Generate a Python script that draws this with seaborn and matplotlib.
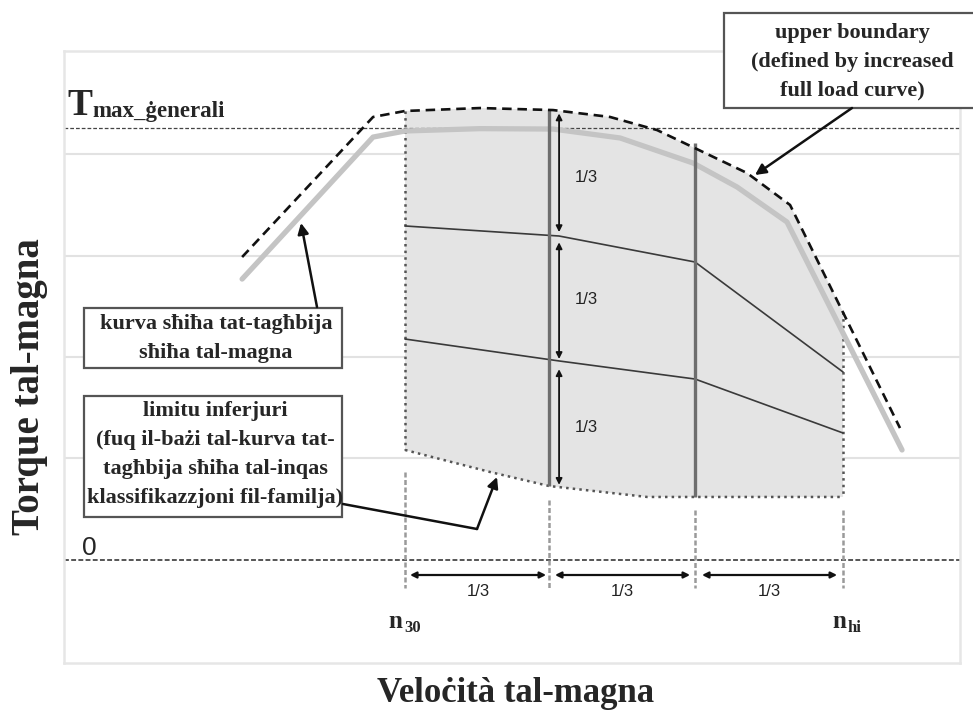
import numpy as np
import pandas as pd
import matplotlib
matplotlib.use("Agg")
import matplotlib.pyplot as plt
import seaborn as sns
from matplotlib.patches import Rectangle, FancyArrowPatch
from matplotlib.lines import Line2D

# ---------------- data (normalised speed: n30 = 0, nhi = 3) ----------------
speed_full_load = [-1.116, -0.219, 0.0, 0.514, 1.014, 1.473, 1.973, 2.274, 2.616, 3.404]
torque_full_load = [2.768, 4.167, 4.227, 4.250, 4.246, 4.158, 3.911, 3.675, 3.330, 1.084]

speed_upper = [-1.116, -0.219, 0.0, 0.514, 1.014, 1.404, 1.726, 2.342, 2.637, 3.390]
torque_upper = [2.985, 4.365, 4.424, 4.453, 4.433, 4.365, 4.236, 3.813, 3.498, 1.300]

speed_lower = [0.0, 0.582, 0.986, 1.658, 3.0]
torque_lower = [1.084, 0.867, 0.729, 0.621, 0.621]
upper_at_nhi = 2.443

speed_thirds = [0.0, 1.055, 1.986, 3.0]
torque_upper_third = [3.291, 3.192, 2.936, 1.852]
torque_lower_third = [2.177, 1.961, 1.783, 1.251]

speed_division = [0.0, 0.986, 1.986, 3.0]
division_line_top = [4.443, 4.108]
division_line_bottom = [0.729, 0.621]
marker_top = [0.867, 0.59, 0.49, 0.49]
marker_bottom = -0.276

torque_arrow_x = 1.055
torque_arrows = [(4.40, 3.23), (3.13, 1.98), (1.88, 0.74)]
torque_third_label_y = [3.773, 2.562, 1.310]

speed_arrows = [(0.034, 0.966), (1.027, 1.952), (2.034, 2.959)]

t_max_general = 4.256
speed_labels = ["n", "n"]
speed_label_subs = ["30", "hi"]

SERIF = "Liberation Serif"
SANS = "Liberation Sans"

sns.set_theme(style="white")
plt.rcParams["font.family"] = [SERIF, "DejaVu Serif"]

W, H = 973, 715
fig = plt.figure(figsize=(W / 100, H / 100), dpi=100)


def fx(px):
    return px / W


def fy(py):
    return 1 - py / H


ax = fig.add_axes([fx(64), fy(663), 896 / W, 612 / H])
ax.set_xlim(-2.336, 3.801)
ax.set_ylim(-1.015, 5.015)
ax.set_xticks([])
ax.set_yticks([1, 2, 3, 4])
ax.set_yticklabels([])
ax.tick_params(length=0)
ax.yaxis.grid(True, color="#e2e2e2", lw=1.5)
ax.set_axisbelow(True)
for s in ax.spines.values():
    s.set_color("#e6e6e6")
    s.set_linewidth(1.8)

# shaded area between lower and upper boundary
poly_x = [x for x in speed_upper if 0 <= x <= 3] + [3.0] + speed_lower[::-1]
poly_y = [y for x, y in zip(speed_upper, torque_upper) if 0 <= x <= 3] + [upper_at_nhi] + torque_lower[::-1]
ax.fill(poly_x, poly_y, color="#e4e4e4", zorder=1, lw=0)

# reference lines
ax.axhline(t_max_general, color="#444444", lw=0.9, ls=(0, (3, 1.6)), zorder=2)
ax.axhline(0, color="#555555", lw=1.4, ls=(0, (2.5, 1.2)), zorder=2)

# region edges (dotted)
ax.plot([0, 0], [torque_upper[2], torque_lower[0]], color="#555555", lw=1.8, ls=":", zorder=3)
ax.plot([3, 3], [upper_at_nhi, torque_lower[-1]], color="#555555", lw=1.8, ls=":", zorder=3)
sns.lineplot(x=speed_lower, y=torque_lower, ax=ax, color="#555555", lw=1.8,
             linestyle=":", sort=False, estimator=None, zorder=3)

# full load curve
sns.lineplot(x=speed_full_load, y=torque_full_load, ax=ax, color="#c4c4c4", lw=3.8,
             sort=False, estimator=None, zorder=4)
# upper boundary
sns.lineplot(x=speed_upper, y=torque_upper, ax=ax, color="#111111", lw=1.9,
             linestyle=(0, (3.6, 2.2)), sort=False, estimator=None, zorder=5)

# third lines
sns.lineplot(x=speed_thirds, y=torque_upper_third, ax=ax, color="#3a3a3a", lw=1.2,
             sort=False, estimator=None, zorder=4)
sns.lineplot(x=speed_thirds, y=torque_lower_third, ax=ax, color="#3a3a3a", lw=1.2,
             sort=False, estimator=None, zorder=4)

# thick division lines
for x, t, b in zip(speed_division[1:3], division_line_top, division_line_bottom):
    ax.plot([x, x], [b, t], color="#6e6e6e", lw=2.4, zorder=4, solid_capstyle="butt")

# dashed markers down to the speed arrows
for x, t in zip(speed_division, marker_top):
    ax.plot([x, x], [t, marker_bottom], color="#9a9a9a", lw=1.8, ls=(0, (2, 1)), zorder=3)

# torque third arrows
for (a, b), ly in zip(torque_arrows, torque_third_label_y):
    ax.annotate("", xy=(torque_arrow_x, b), xytext=(torque_arrow_x, a),
                arrowprops=dict(arrowstyle="<|-|>", color="#111111", lw=1.3,
                                mutation_scale=9, shrinkA=0, shrinkB=0), zorder=6)
    ax.text(1.164, ly, "1/3", family=SANS, fontsize=12, color="#222222",
            ha="left", va="center", zorder=6)

# speed third arrows
for a, b in speed_arrows:
    ax.annotate("", xy=(b, -0.148), xytext=(a, -0.148),
                arrowprops=dict(arrowstyle="<|-|>", color="#111111", lw=1.6,
                                mutation_scale=9, shrinkA=0, shrinkB=0), zorder=6)
    ax.text((a + b) / 2, -0.315, "1/3", family=SANS, fontsize=12, color="#222222",
            ha="center", va="center", zorder=6)

# ---------------- texts in figure coordinates ----------------
# speed labels n30 / nhi
for x0, base, sub in zip([388, 832], speed_labels, speed_label_subs):
    fig.text(fx(x0), fy(628), base, family=SERIF, fontweight="bold", fontsize=18,
             ha="left", va="baseline")
    fig.text(fx(x0 + 16), fy(632), sub, family=SERIF, fontweight="bold", fontsize=12,
             ha="left", va="baseline")

fig.text(fx(67), fy(115), "T", family=SERIF, fontweight="bold", fontsize=27,
         ha="left", va="baseline")
fig.text(fx(92), fy(117), "max_ġenerali", family=SERIF, fontweight="bold", fontsize=16.5,
         ha="left", va="baseline")
fig.text(fx(82), fy(555), "0", family=SANS, fontsize=19, ha="left", va="baseline")

fig.text(fx(516), fy(693), "Veloċità tal-magna", family=SERIF, fontweight="bold",
         fontsize=25, ha="center", va="center")
fig.text(fx(30), fy(387), "Torque tal-magna", family=SERIF, fontweight="bold",
         fontsize=28, ha="center", va="center", rotation=90)


def box(x0, y0, x1, y1):
    r = Rectangle((fx(x0), fy(y1)), fx(x1) - fx(x0), fy(y0) - fy(y1),
                  transform=fig.transFigure, facecolor="white", edgecolor="#555555",
                  lw=1.6, zorder=10)
    fig.patches.append(r)


def arrow(p_from, p_to):
    fig.add_artist(FancyArrowPatch(
        (fx(p_from[0]), fy(p_from[1])), (fx(p_to[0]), fy(p_to[1])),
        transform=fig.transFigure, arrowstyle="-|>", mutation_scale=16,
        color="#111111", lw=1.8, shrinkA=0, shrinkB=0, zorder=11))


# upper boundary box
box(724, 13, 975, 108)
for i, line in enumerate(["upper boundary", "(defined by increased", "full load curve)"]):
    fig.text(fx(852), fy(33 + 28.5 * i), line, family=SERIF, fontweight="bold",
             fontsize=16, ha="center", va="center", zorder=12)
arrow((852, 108), (755, 175))

# kurva box
box(84, 308, 342, 368)
for i, line in enumerate(["kurva sħiħa tat-tagħbija", "sħiħa tal-magna"]):
    fig.text(fx(216), fy(324 + 29 * i), line, family=SERIF, fontweight="bold",
             fontsize=16, ha="center", va="center", zorder=12)
arrow((317, 307), (301, 223))

# limitu box
box(84, 396, 342, 517)
for i, line in enumerate(["limitu inferjuri", "(fuq il-bażi tal-kurva tat-",
                          "tagħbija sħiħa tal-inqas", "klassifikazzjoni fil-familja)"]):
    fig.text(fx(215), fy(411 + 29 * i), line, family=SERIF, fontweight="bold",
             fontsize=16, ha="center", va="center", zorder=12)
fig.add_artist(Line2D([fx(343), fx(477)], [fy(504), fy(529)], transform=fig.transFigure,
                      color="#111111", lw=1.8, zorder=11))
arrow((477, 529), (497, 477))

fig.savefig("out.png", dpi=100)
